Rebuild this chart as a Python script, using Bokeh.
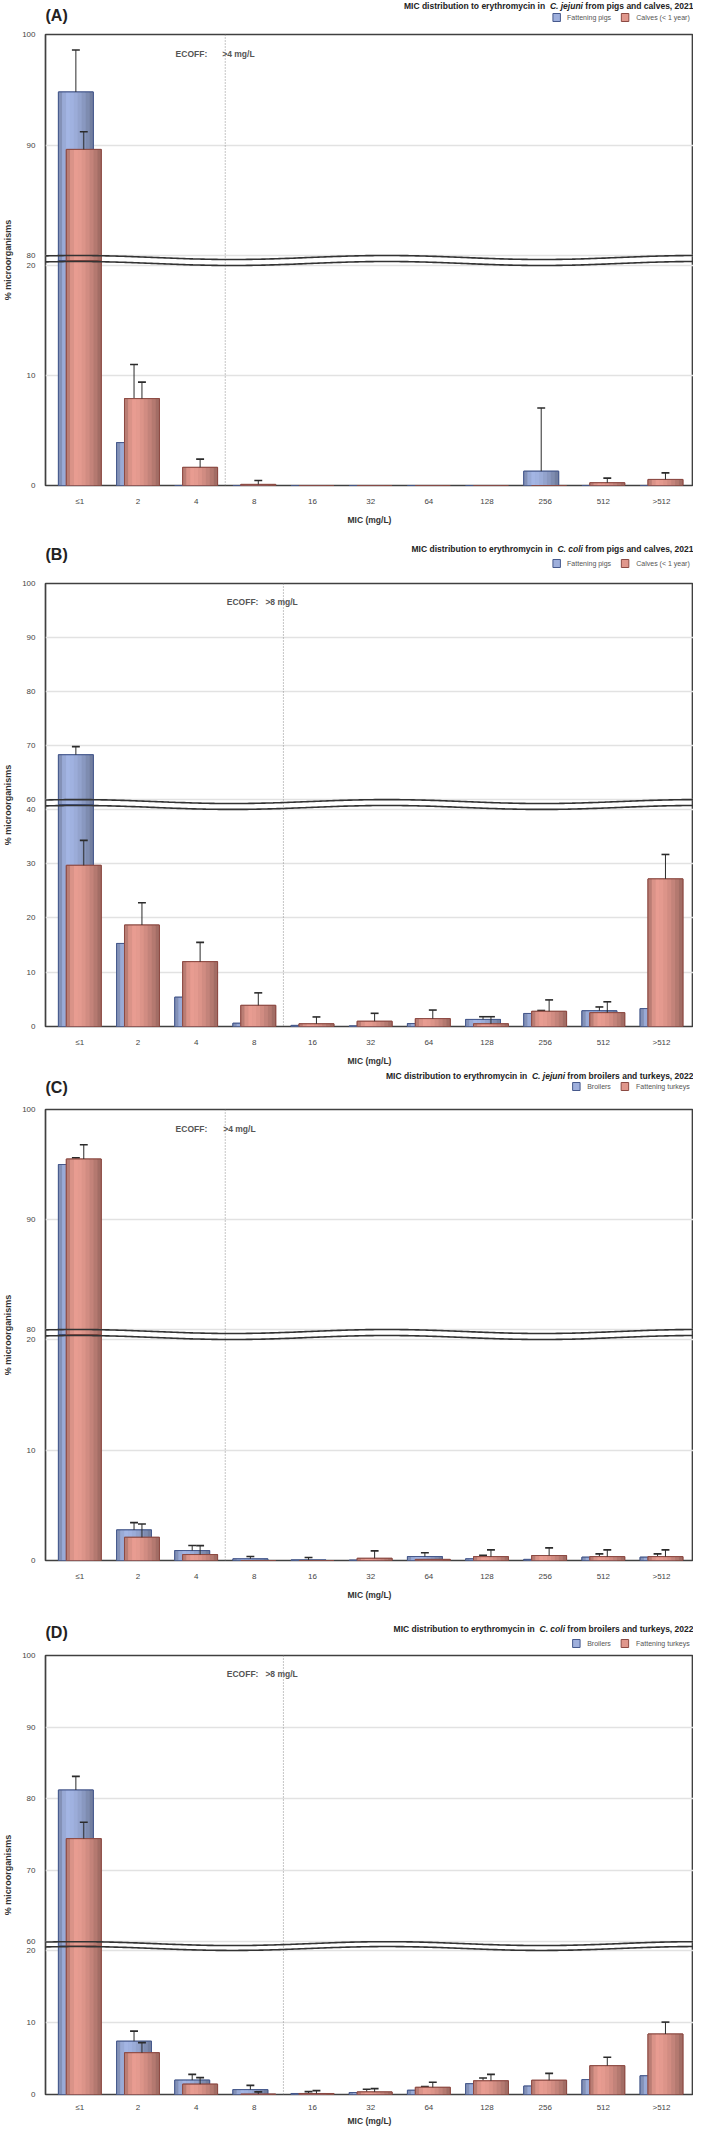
import math
import numpy as np
from bokeh.plotting import figure
from bokeh.models import (Range1d, FixedTicker, Grid, Label, Span, ColumnDataSource)
from bokeh.layouts import column
from bokeh.embed import file_html
from bokeh.resources import INLINE

nan = float("nan")

# ---------------- data ----------------
mic_labels = ["\u22641", "2", "4", "8", "16", "32", "64", "128", "256", "512", ">512"]

# (A) C. jejuni from pigs and calves, 2021
a_names = ["Fattening pigs", "Calves (< 1 year)"]
a_pigs = [94.8, 3.9, 0, 0, 0, 0, 0, 0, 1.3, 0, 0]
a_pigs_upper = [98.6, 11.0, nan, nan, nan, nan, nan, nan, 7.05, nan, nan]
a_calves = [89.6, 7.9, 1.65, 0.1, 0, 0, 0, 0, 0, 0.25, 0.55]
a_calves_upper = [91.2, 9.4, 2.4, 0.45, nan, nan, nan, nan, nan, 0.67, 1.15]

# (B) C. coli from pigs and calves, 2021
b_names = ["Fattening pigs", "Calves (< 1 year)"]
b_pigs = [68.3, 15.3, 5.4, 0.6, 0.2, 0.1, 0.55, 1.3, 2.4, 2.9, 3.3]
b_pigs_upper = [69.8, nan, nan, nan, nan, nan, nan, 1.8, 2.95, 3.6, nan]
b_calves = [29.7, 18.7, 11.95, 3.9, 0.5, 0.97, 1.45, 0.5, 2.8, 2.55, 27.2]
b_calves_upper = [34.3, 22.8, 15.5, 6.2, 1.76, 2.43, 3.03, 1.8, 4.9, 4.55, 31.7]

# (C) C. jejuni from broilers and turkeys, 2022
c_names = ["Broilers", "Fattening turkeys"]
c_broilers = [95.0, 2.77, 0.9, 0.15, 0.05, 0.03, 0.36, 0.15, 0.1, 0.3, 0.3]
c_broilers_upper = [95.6, 3.43, 1.36, 0.36, 0.27, nan, 0.7, 0.48, nan, 0.6, 0.6]
c_turkeys = [95.5, 2.1, 0.54, 0, 0, 0.2, 0.1, 0.35, 0.45, 0.35, 0.35]
c_turkeys_upper = [96.8, 3.3, 1.35, nan, nan, 0.87, nan, 0.96, 1.14, 0.96, 0.96]

# (D) C. coli from broilers and turkeys, 2022
d_names = ["Broilers", "Fattening turkeys"]
d_broilers = [81.2, 7.4, 2.0, 0.68, 0.14, 0.27, 0.59, 1.5, 1.17, 2.07, 2.6]
d_broilers_upper = [83.1, 8.8, 2.8, 1.26, 0.4, 0.72, 1.1, 2.3, nan, nan, nan]
d_turkeys = [74.4, 5.8, 1.44, 0.05, 0.14, 0.36, 1.0, 1.9, 1.98, 4.0, 8.4]
d_turkeys_upper = [76.7, 7.2, 2.34, 0.36, 0.54, 0.81, 1.71, 2.8, 2.93, 5.18, 10.05]

# ---------------- style / layout ----------------
FONT = "Liberation Sans"
W = 693
BORDER_L = 33
BORDER_T = 6
FRAME_H = 451
XR0, XR1 = -0.59, 10.55
PXU = (W - BORDER_L) / (XR1 - XR0)
BW = 0.6
OFF = 0.068
CAPW = 0.068
NSL = 9
BLUE_PEAK = (163, 181, 228)
RED_PEAK = (232, 156, 145)
BLUE_LINE = "#46598c"
RED_LINE = "#8c4a43"
TICK_COL = "#444444"
ERR_COL = "#2b2b2b"

BOLD = {' ': 278, '(': 333, ')': 333, ',': 278, '.': 278, '/': 278, ':': 333, '<': 584, '>': 584,
        'A': 722, 'B': 722, 'C': 722, 'D': 722, 'E': 667, 'F': 611, 'I': 278, 'L': 611, 'M': 833,
        'O': 778, 'a': 556, 'b': 611, 'c': 556, 'd': 611, 'e': 556, 'f': 333, 'g': 611, 'h': 611,
        'i': 278, 'j': 278, 'k': 556, 'l': 278, 'm': 889, 'n': 611, 'o': 611, 'p': 611, 'q': 611,
        'r': 389, 's': 556, 't': 333, 'u': 611, 'v': 556, 'w': 778, 'x': 556, 'y': 556, 'z': 500}
REG = {' ': 278, '(': 333, ')': 333, ',': 278, '.': 278, '/': 278, '<': 584, '>': 584,
       'B': 667, 'C': 722, 'F': 611, 'a': 556, 'b': 556, 'c': 500, 'd': 556, 'e': 556, 'f': 278,
       'g': 556, 'h': 556, 'i': 222, 'j': 222, 'k': 500, 'l': 222, 'm': 833, 'n': 556, 'o': 556,
       'p': 556, 'q': 556, 'r': 333, 's': 500, 't': 278, 'u': 556, 'v': 500, 'w': 722, 'x': 500,
       'y': 500, 'z': 500}


def tw(s, size, table):
    return sum(table.get(ch, 556) for ch in s) * size / 1000.0


def shade_hex(rgb, t):
    if t < 0.3:
        f = 1 - 0.30 * ((0.3 - t) / 0.3) ** 2
    else:
        f = 1 - 0.34 * ((t - 0.3) / 0.7) ** 1.5
    return "#%02x%02x%02x" % tuple(max(0, min(255, int(round(c * f)))) for c in rgb)


def add_series(p, vals, ups, offset, peak, line_col, clip_b, clip_t):
    v = np.array(vals, dtype=float)
    u = np.array(ups, dtype=float)
    xc = np.arange(len(v)) + offset
    mid = shade_hex(peak, 0.5)
    seg_w = BW / NSL
    cols = [shade_hex(peak, (k + 0.5) / NSL) for k in range(NSL)]

    def slices(xs, tops, bottoms):
        sx, st, sb, sc = [], [], [], []
        for k in range(NSL):
            sx.extend(list(xs - BW / 2 + (k + 0.5) * seg_w))
            st.extend(list(tops))
            sb.extend(list(bottoms))
            sc.extend([cols[k]] * len(xs))
        return ColumnDataSource(dict(x=sx, top=st, bottom=sb, color=sc))

    # lower segment (default range)
    tb = np.minimum(v, clip_b)
    zb = np.zeros_like(tb)
    p.vbar(x=xc, width=BW, top=tb, bottom=zb, fill_color=mid, line_color=line_col, line_width=1)
    p.vbar(x="x", width=seg_w * 1.06, top="top", bottom="bottom", fill_color="color",
           line_color=None, source=slices(xc, tb, zb))
    p.vbar(x=xc, width=BW, top=tb, bottom=zb, fill_color=None, line_color=line_col, line_width=1)

    # upper segment ("top" range)
    m = v > clip_t
    xt = xc[m]
    tt = v[m]
    bt = np.full_like(tt, clip_t)
    p.vbar(x=xt, width=BW, top=tt, bottom=bt, fill_color=mid, line_color=line_col,
           line_width=1, y_range_name="top")
    p.vbar(x="x", width=seg_w * 1.06, top="top", bottom="bottom", fill_color="color",
           line_color=None, source=slices(xt, tt, bt), y_range_name="top")
    p.vbar(x=xt, width=BW, top=tt, bottom=bt, fill_color=None, line_color=line_col,
           line_width=1, y_range_name="top")

    # error bars (upper confidence limit only)
    has = ~np.isnan(u)
    up_m = has & (v > clip_t)
    lo_m = has & ~(v > clip_t)
    for mask, rname, clip in ((up_m, "top", None), (lo_m, "default", clip_b)):
        xe = xc[mask]
        ve = v[mask]
        ue = u[mask] if clip is None else np.minimum(u[mask], clip)
        p.segment(x0=xe, y0=ve, x1=xe, y1=ue, line_color=ERR_COL, line_width=1,
                  y_range_name=rname)
        p.segment(x0=xe - CAPW, y0=ue, x1=xe + CAPW, y1=ue, line_color=ERR_COL,
                  line_width=1.6, y_range_name=rname)


def build_header(tag, title_pre, species, title_post, names, h, title_y, tag_y, legend_y):
    hx0 = XR0 - BORDER_L / PXU
    hp = figure(width=W, height=h, x_range=Range1d(hx0, XR1), y_range=Range1d(0, h),
                output_backend="svg", toolbar_location=None, title=None,
                x_axis_location=None, y_axis_location=None, min_border=0,
                min_border_left=0, min_border_right=0, min_border_top=0, min_border_bottom=0)
    hp.outline_line_color = None
    hp.grid.visible = False
    hp.background_fill_color = "white"
    hp.border_fill_color = "white"

    def dx(px):
        return hx0 + px / PXU

    hp.add_layout(Label(x=hx0, y=h - tag_y, text=tag, text_align="left", text_baseline="middle",
                        text_font=FONT, text_font_size="16px", text_font_style="bold",
                        text_color="#222222"))
    ts = 8.5
    off_sp = tw(title_post, ts, BOLD) + tw(" ", ts, BOLD)
    off_pre = off_sp + tw(species, ts, BOLD) + 2 * tw(" ", ts, BOLD)
    for txt, off, style in ((title_post, 0, "bold"), (species, off_sp, "bold italic"),
                            (title_pre, off_pre, "bold")):
        hp.add_layout(Label(x=XR1, y=h - title_y, x_offset=-off, text=txt, text_align="right",
                            text_baseline="middle", text_font=FONT,
                            text_font_size="%spx" % ts, text_font_style=style,
                            text_color="#222222"))

    # legend: swatches and names (right-aligned texts so they never overflow)
    ls = 7
    w1 = tw(names[0], ls, REG) * 1.05
    w2 = tw(names[1], ls, REG) * 1.05
    right = W - 4.0
    t2_right = right
    s2_right = right - w2 - 9
    t1_right = s2_right - 8 - 11
    s1_right = t1_right - w1 - 8
    ly = h - legend_y
    for s_right, t_right, txt, peak, lc in ((s1_right, t1_right, names[0], BLUE_PEAK, BLUE_LINE),
                                            (s2_right, t2_right, names[1], RED_PEAK, RED_LINE)):
        hp.rect(x=[dx(s_right - 4)], y=[ly], width=8 / PXU, height=8,
                fill_color=shade_hex(peak, 0.45), line_color=lc, line_width=1)
        hp.add_layout(Label(x=dx(t_right), y=ly, text=txt, text_align="right",
                            text_baseline="middle", text_font=FONT,
                            text_font_size="%dpx" % ls, text_color="#555555"))
    return hp


def build_panel(blue_vals, blue_up, red_vals, red_up, tlo, bhi, top_px, gap_px, bot_px,
                top_ticks, bot_ticks, ecoff_x, ecoff_value, ecoff_dx, fig_h, tight=False):
    ppu_t = top_px / (100.0 - tlo)
    ppu_b = bot_px / float(bhi)
    top_start = 100.0 - FRAME_H / ppu_t
    bot_end = FRAME_H / ppu_b
    clip_t = tlo - (gap_px / 2.0) / ppu_t
    clip_b = bhi + (gap_px / 2.0) / ppu_b

    p = figure(width=W, height=fig_h, x_range=Range1d(XR0, XR1), y_range=Range1d(0, bot_end),
               output_backend="svg", toolbar_location=None, title=None,
               min_border_left=BORDER_L, min_border_right=0,
               min_border_top=BORDER_T, min_border_bottom=fig_h - BORDER_T - FRAME_H)
    p.extra_y_ranges = {"top": Range1d(top_start, 100.0)}
    p.background_fill_color = "white"
    p.border_fill_color = "white"
    p.outline_line_color = "#404040"
    p.outline_line_width = 1.7

    # x axis
    xa = p.xaxis[0]
    xa.ticker = FixedTicker(ticks=list(range(len(mic_labels))))
    xa.major_label_overrides = {i: lab for i, lab in enumerate(mic_labels)}
    xa.axis_label = "MIC (mg/L)"
    xa.axis_line_color = None
    xa.major_tick_line_color = None
    xa.minor_tick_line_color = None
    xa.major_label_text_font = FONT
    xa.major_label_text_font_size = "8px"
    xa.major_label_text_color = TICK_COL
    xa.major_label_standoff = 2 if tight else 5
    xa.axis_label_standoff = 1 if tight else 6
    xa.axis_label_text_font = FONT
    xa.axis_label_text_font_size = "8.5px"
    xa.axis_label_text_font_style = "bold"
    xa.axis_label_text_color = "#333333"

    # y axis: lower segment ticks, plus the upper segment's ticks placed where
    # the upper scale puts them on the same frame
    tick_pos, tick_txt = [], []
    for b in bot_ticks:
        tick_pos.append(b)
        tick_txt.append(str(b))
    for t in top_ticks:
        pos = (FRAME_H - (100.0 - t) * ppu_t) / ppu_b
        pos = math.floor(pos * 1e4) / 1e4
        tick_pos.append(pos)
        tick_txt.append(str(t))
    ya = p.yaxis[0]
    ya.ticker = FixedTicker(ticks=tick_pos)
    ya.major_label_overrides = {pv: tx for pv, tx in zip(tick_pos, tick_txt)}
    ya.axis_line_color = None
    ya.major_tick_line_color = None
    ya.minor_tick_line_color = None
    ya.major_label_text_font = FONT
    ya.major_label_text_font_size = "8px"
    ya.major_label_text_color = TICK_COL
    ya.major_label_standoff = 4
    ya.axis_label = "% microorganisms"
    ya.axis_label_standoff = 6
    ya.axis_label_text_font = FONT
    ya.axis_label_text_font_size = "9px"
    ya.axis_label_text_font_style = "bold"
    ya.axis_label_text_color = "#333333"

    # grids
    p.xgrid.visible = False
    p.ygrid[0].ticker = FixedTicker(ticks=[t for t in bot_ticks if t > 0])
    p.ygrid[0].grid_line_color = "#e2e2e2"
    p.ygrid[0].grid_line_width = 1.3
    p.add_layout(Grid(dimension=1, ticker=FixedTicker(ticks=[t for t in top_ticks if t < 100]),
                      y_range_name="top", grid_line_color="#e2e2e2", grid_line_width=1.3))

    # ECOFF line and text
    p.add_layout(Span(location=ecoff_x, dimension="height", line_color="#8c8c8c",
                      line_dash="1 2", line_width=1, level="underlay"))
    ey = 100.0 - 19.0 / ppu_t
    p.add_layout(Label(x=ecoff_x, y=ey, y_range_name="top", x_offset=ecoff_dx[0], text="ECOFF:",
                       text_align="right", text_baseline="middle", text_font=FONT,
                       text_font_size="8.5px", text_font_style="bold", text_color="#555555"))
    p.add_layout(Label(x=ecoff_x, y=ey, y_range_name="top", x_offset=ecoff_dx[1], text=ecoff_value,
                       text_align="left", text_baseline="middle", text_font=FONT,
                       text_font_size="8.5px", text_font_style="bold", text_color="#555555"))

    # bars + error bars (blue behind red)
    add_series(p, blue_vals, blue_up, -OFF, BLUE_PEAK, BLUE_LINE, clip_b, clip_t)
    add_series(p, red_vals, red_up, OFF, RED_PEAK, RED_LINE, clip_b, clip_t)

    # axis break (wavy double line)
    xs = np.linspace(XR0, XR1, 300)
    th = 2 * np.pi * (xs - 5.28) / 5.32
    p.line(xs, tlo - (2 - 2 * np.cos(th)) / ppu_t, y_range_name="top",
           line_color="#333333", line_width=1.6)
    p.line(xs, bhi + (2 + 2 * np.cos(th)) / ppu_b, line_color="#333333", line_width=1.6)
    return p


hA = build_header("(A)", "MIC distribution to erythromycin in", "C. jejuni",
                  "from pigs and calves, 2021", a_names, h=28, title_y=5, tag_y=15, legend_y=17)
pA = build_panel(a_pigs, a_pigs_upper, a_calves, a_calves_upper, tlo=80, bhi=20, top_px=221,
                 gap_px=10, bot_px=220, top_ticks=[80, 90, 100], bot_ticks=[0, 10, 20],
                 ecoff_x=2.5, ecoff_value=">4 mg/L", ecoff_dx=(-18, -3), fig_h=513)

hB = build_header("(B)", "MIC distribution to erythromycin in", "C. coli",
                  "from pigs and calves, 2021", b_names, h=36, title_y=7, tag_y=13, legend_y=22)
pB = build_panel(b_pigs, b_pigs_upper, b_calves, b_calves_upper, tlo=60, bhi=40, top_px=220,
                 gap_px=10, bot_px=221, top_ticks=[60, 70, 80, 90, 100],
                 bot_ticks=[0, 10, 20, 30, 40], ecoff_x=3.5, ecoff_value=">8 mg/L",
                 ecoff_dx=(-25, -18), fig_h=491)

hC = build_header("(C)", "MIC distribution to erythromycin in", "C. jejuni",
                  "from broilers and turkeys, 2022", c_names, h=35, title_y=7, tag_y=19,
                  legend_y=18)
pC = build_panel(c_broilers, c_broilers_upper, c_turkeys, c_turkeys_upper, tlo=80, bhi=20,
                 top_px=220, gap_px=10, bot_px=221, top_ticks=[80, 90, 100],
                 bot_ticks=[0, 10, 20], ecoff_x=2.5, ecoff_value=">4 mg/L", ecoff_dx=(-18, -2),
                 fig_h=519)

hD = build_header("(D)", "MIC distribution to erythromycin in", "C. coli",
                  "from broilers and turkeys, 2022", d_names, h=27, title_y=6, tag_y=10,
                  legend_y=21)
pD = build_panel(d_broilers, d_broilers_upper, d_turkeys, d_turkeys_upper, tlo=60, bhi=20,
                 top_px=294, gap_px=9, bot_px=148, top_ticks=[60, 70, 80, 90, 100],
                 bot_ticks=[0, 10, 20], ecoff_x=3.5, ecoff_value=">8 mg/L", ecoff_dx=(-25, -18),
                 fig_h=479, tight=True)

layout = column(hA, pA, hB, pB, hC, pC, hD, pD, spacing=0)
open("out.html", "w").write(file_html(layout, INLINE))
